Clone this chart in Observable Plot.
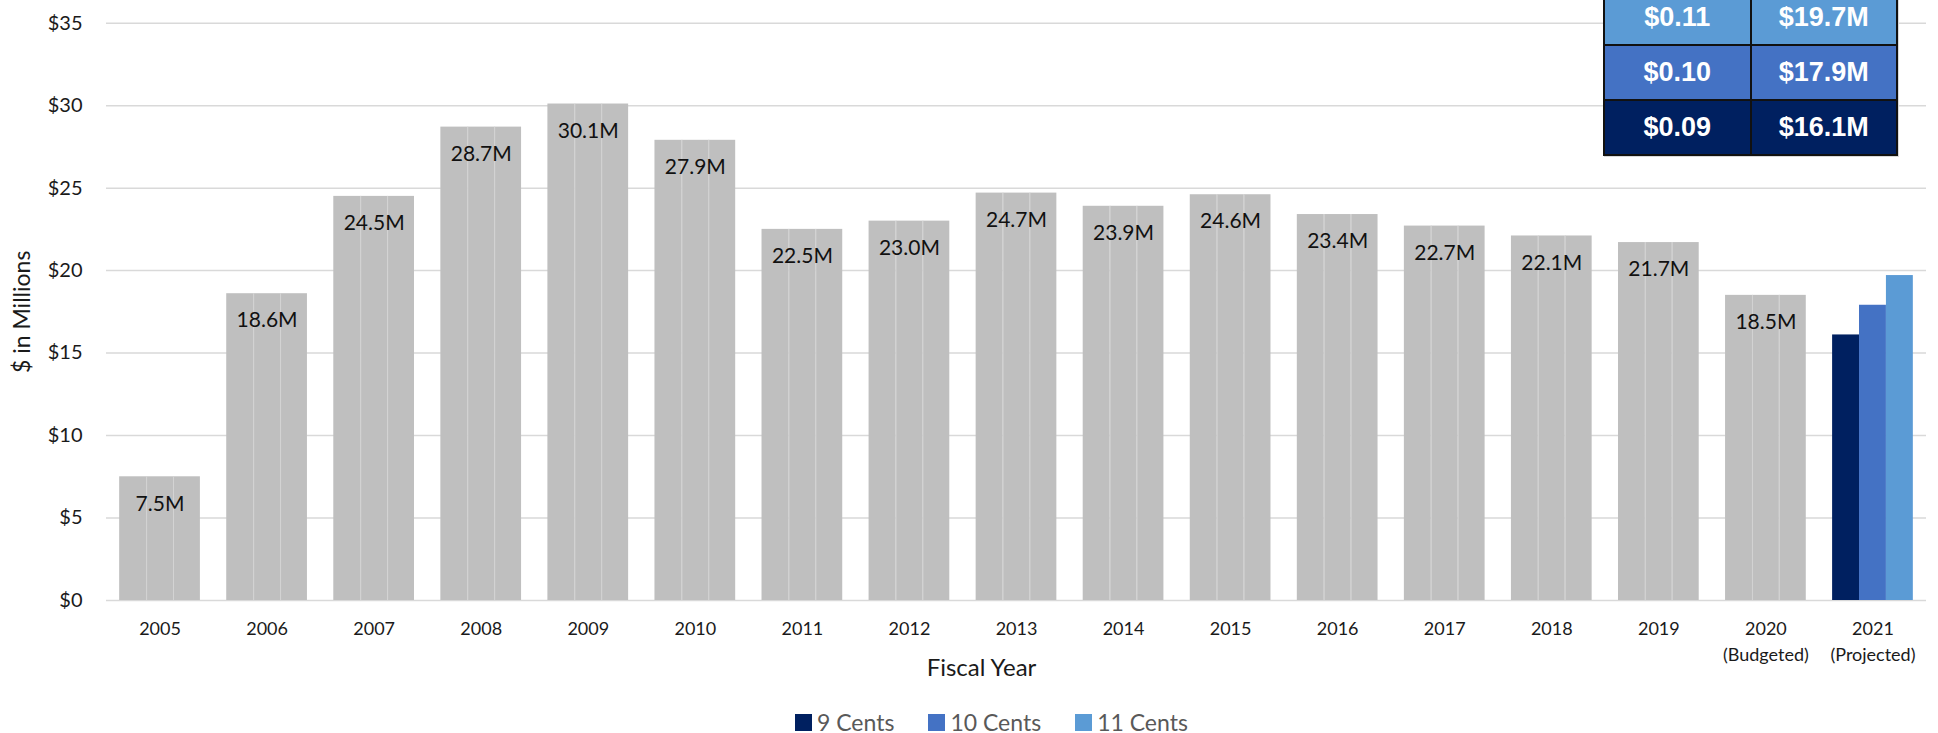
<!DOCTYPE html>
<html>
<head>
<meta charset="utf-8">
<script src="https://cdn.jsdelivr.net/npm/d3@7"></script>
<script src="https://cdn.jsdelivr.net/npm/@observablehq/plot@0.6"></script>
<style>
  html, body { margin: 0; padding: 0; background: #fff; overflow: hidden; }
  #wrap { position: relative; width: 1938px; height: 733px; font-family: Lato, "Open Sans", sans-serif; }
  #wrap svg { position: absolute; left: 0; top: 0; }
  #rates { position: absolute; left: 1603px; top: -11px; border-collapse: collapse; table-layout: fixed; width: 295px;
           font-family: "Liberation Sans", Arial, sans-serif; font-weight: bold; font-size: 27px; color: #fff;
           box-shadow: 1px 1px 0 #d9d9d9; }
  #rates td { border: 2px solid #111; height: 53px; padding: 0; text-align: center; vertical-align: middle; }
  #legend { position: absolute; left: 0; width: 1938px; top: 707px; height: 30px; display: flex; justify-content: flex-start;
            font-family: Lato, sans-serif; font-size: 23px; color: #595959; line-height: 30px; padding-left: 795px; box-sizing: border-box; }
  #legend .item { display: flex; align-items: center; margin-right: 34px; }
  #legend .sw { width: 17px; height: 17px; margin-right: 5px; }
</style>
</head>
<body>
<div id="wrap"></div>
<script>
// ---- data ----
const years = ["2005","2006","2007","2008","2009","2010","2011","2012","2013","2014","2015","2016","2017","2018","2019","2020","2021"];
const yearNotes = ["","","","","","","","","","","","","","","","(Budgeted)","(Projected)"];
const historical = [7.5, 18.6, 24.5, 28.7, 30.1, 27.9, 22.5, 23.0, 24.7, 23.9, 24.6, 23.4, 22.7, 22.1, 21.7, 18.5];
const series = ["9 Cents", "10 Cents", "11 Cents"];
const projected2021 = [16.1, 17.9, 19.7];
const rates = ["$0.09", "$0.10", "$0.11"];
const seriesColors = ["#002060", "#4472c4", "#5b9bd5"];
const historicalColor = "#bfbfbf";
const yTicks = [0, 5, 10, 15, 20, 25, 30, 35];

// ---- table of bars: each year is drawn as three adjacent sub-bars ----
const HALF = 0.377;            // half of a year's bar width (in year units)
const SUB = (2 * HALF) / 3;    // width of each sub-bar
const rows = [];
years.forEach((year, i) => {
  series.forEach((s, k) => {
    const isProj = i >= historical.length;
    rows.push({
      i, k, year,
      value: isProj ? projected2021[k] : historical[i],
      group: isProj ? s : "Historical"
    });
  });
});
const histRows = rows.filter(d => d.group === "Historical");
const separators = histRows.filter(d => d.k > 0);
const labelRows = historical.map((v, i) => ({i, value: v}));

const chart = Plot.plot({
  width: 1938,
  height: 733,
  marginTop: 22.7,
  marginBottom: 133,
  marginLeft: 106,
  marginRight: 12,
  style: { fontFamily: "Lato, 'Open Sans', sans-serif", color: "#1a1a1a", background: "transparent" },
  x: { type: "linear", domain: [-0.5, years.length - 0.5], axis: null },
  y: { domain: [0, 35], axis: null },
  color: { domain: ["Historical", ...series], range: [historicalColor, ...seriesColors] },
  marks: [
    Plot.ruleY(yTicks, { stroke: "#d9d9d9", strokeWidth: 1.5 }),
    Plot.rectY(rows, {
      x1: d => d.i - HALF + d.k * SUB,
      x2: d => d.i - HALF + (d.k + 1) * SUB,
      y1: 0,
      y2: "value",
      fill: "group"
    }),
    Plot.ruleX(separators, {
      x: d => d.i - HALF + d.k * SUB,
      y1: 0,
      y2: "value",
      stroke: "#d4d4d4",
      strokeWidth: 1
    }),
    Plot.text(labelRows, {
      x: "i", y: "value", text: d => d.value.toFixed(1) + "M",
      dy: 27, fontSize: 21, fill: "#111"
    }),
    Plot.axisY(yTicks, {
      label: null, tickSize: 0, tickPadding: 24, fontSize: 20, tickFormat: d => "$" + d, fill: "#1a1a1a"
    }),
    Plot.text(d3.range(years.length), {
      x: d => d,
      text: i => yearNotes[i] ? years[i] + "\n" + yearNotes[i] : years[i],
      frameAnchor: "bottom", lineAnchor: "top", dy: 16, fontSize: 18, lineHeight: 1.45, fill: "#1a1a1a"
    }),
    Plot.text(["Fiscal Year"], { frameAnchor: "bottom", lineAnchor: "middle", textAnchor: "middle", dy: 68, dx: -35, fontSize: 24, fill: "#1a1a1a" }),
    Plot.text(["$ in Millions"], { frameAnchor: "left", textAnchor: "middle", lineAnchor: "middle", rotate: -90, dx: -84, fontSize: 23, fill: "#1a1a1a" })
  ]
});

const wrap = document.getElementById("wrap");
wrap.appendChild(chart);

// rate / revenue table (top right)
const table = document.createElement("table");
table.id = "rates";
for (let k = series.length - 1; k >= 0; k--) {
  const tr = document.createElement("tr");
  tr.style.background = seriesColors[k];
  const td1 = document.createElement("td");
  td1.textContent = rates[k];
  const td2 = document.createElement("td");
  td2.textContent = "$" + projected2021[k].toFixed(1) + "M";
  tr.appendChild(td1); tr.appendChild(td2);
  table.appendChild(tr);
}
wrap.appendChild(table);

// legend
const legend = document.createElement("div");
legend.id = "legend";
series.forEach((s, k) => {
  const item = document.createElement("div");
  item.className = "item";
  const sw = document.createElement("div");
  sw.className = "sw";
  sw.style.background = seriesColors[k];
  const t = document.createElement("span");
  t.textContent = s;
  item.appendChild(sw); item.appendChild(t);
  legend.appendChild(item);
});
wrap.appendChild(legend);
</script>
</body>
</html>
